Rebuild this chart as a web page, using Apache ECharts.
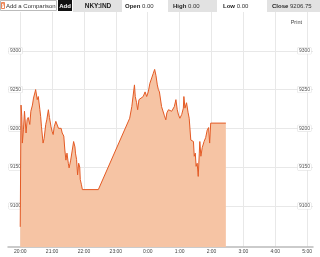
<!DOCTYPE html>
<html><head><meta charset="utf-8">
<script src="https://cdn.jsdelivr.net/npm/echarts@6/dist/echarts.min.js"></script>
<style>html,body{margin:0;padding:0;background:#fff}#c{width:320px;height:257px}</style>
</head><body><div id="c"></div>
<script>
// minutes after 20:00
const minutes = [0,1.5,3,4,6,8,11,13,15,18,20,23,25,28,29,32,34,37,38.5,40,43,45,48,50,53,55,58,60,62,64,67,69,72,74,77,79,82,84,86,88,90.5,92,95,98,100.5,103,104,106,108,110,112,113,115,117,118,147,206,210,215,216.5,219,221,223.5,227,231.5,235,238,241,244,247.5,250.5,253,255.5,258,260,262,264,266,269,271,274,276,279,282,285,287.5,290,293,295.5,298,300.5,304,307,308,310,313,316,318,321,323,326,327.5,329.5,331,333,335,337,338,340,342.5,346,349,352,354.5,356.5,358.5,387];
const prices = [9073,9230,9215,9181,9198,9222,9194,9211,9214,9205,9222,9230,9239,9247,9250,9237,9241,9224,9215,9202,9181,9187,9205,9211,9224,9214,9202,9196,9192,9202,9209,9207,9200,9198,9200,9194,9190,9172,9159,9168,9155,9149,9159,9172,9183,9176,9168,9160,9140,9155,9150,9134,9128,9121,9121,9121,9213,9228,9256,9241,9233,9224,9237,9235,9241,9247,9241,9247,9258,9265,9271,9276,9268,9256,9250,9247,9245,9228,9228,9217,9211,9220,9224,9226,9222,9224,9228,9237,9224,9217,9213,9218,9226,9241,9226,9233,9220,9213,9185,9187,9183,9164,9168,9151,9155,9138,9168,9183,9164,9175,9183,9188,9198,9201,9181,9206.75,9206.75];
const xTicks = [0,60,120,180,240,300,360,420,480,540];
const yTicks = [9100,9150,9200,9250,9300];
const tickerName = 'NKY:IND';
const openVal = '0.00', highVal = '0.00', lowVal = '0.00', closeVal = '9206.75';

const FONT = 'Liberation Sans, Arial, sans-serif';
const chart = echarts.init(document.getElementById('c'), null, {renderer: 'canvas'});
const seriesData = minutes.map((m, i) => [m, prices[i]]);
const fmtTime = v => (((20 + Math.round(v / 60)) % 24) + ':00');
const yLabel = {
  inside: true, fontSize: 5, color: '#555', fontFamily: FONT,
  backgroundColor: '#fff', borderColor: '#ddd', borderWidth: 0.5, padding: [1, 1, 0, 1],
  customValues: yTicks, formatter: v => String(v)
};
const hdrText = (x, txt, bold, fill) => ({
  type: 'text', x: x, y: 6, silent: true,
  style: {text: txt, fontSize: 6, fontFamily: FONT, fontWeight: bold ? 'bold' : 'normal',
    fill: fill || '#222', verticalAlign: 'middle', align: 'left'}
});
const richText = (x, label, val) => ({
  type: 'text', x: x, y: 6, silent: true,
  style: {text: '{b|' + label + '} ' + val, fontSize: 6, fontFamily: FONT, fill: '#333',
    verticalAlign: 'middle', align: 'left', rich: {b: {fontWeight: 'bold', fontSize: 6, fontFamily: FONT, fill: '#222'}}}
});
chart.setOption({
  animation: false,
  backgroundColor: '#fff',
  grid: {left: 8, right: 7, top: 12, bottom: 10},
  xAxis: {
    type: 'value', min: -23, max: 551,
    axisLine: {show: true, onZero: false, lineStyle: {color: '#bbb', width: 1.5}},
    axisTick: {show: false, customValues: xTicks},
    axisLabel: {fontSize: 5, color: '#444', fontFamily: FONT, margin: 2, customValues: xTicks, formatter: fmtTime},
    splitLine: {show: true, lineStyle: {color: '#e8e8e8', width: 1}}
  },
  yAxis: [
    {type: 'value', position: 'left', min: 9047, max: 9350,
      axisLine: {show: false}, axisTick: {show: false, customValues: yTicks},
      axisLabel: Object.assign({margin: 1}, yLabel),
      splitLine: {show: true, lineStyle: {color: '#e8e8e8', width: 1}}},
    {type: 'value', position: 'right', min: 9047, max: 9350,
      axisLine: {show: false}, axisTick: {show: false, customValues: yTicks},
      axisLabel: Object.assign({margin: 2}, yLabel),
      splitLine: {show: false}}
  ],
  series: [{
    type: 'line', data: seriesData, showSymbol: false, symbol: 'none',
    lineStyle: {color: '#e45a24', width: 1},
    areaStyle: {color: '#f6c4a4', opacity: 1, origin: 'start'},
    z: 3
  }],
  graphic: [
    {type: 'rect', shape: {x: 0.5, y: 0.5, width: 56, height: 10}, style: {fill: '#fff', stroke: '#bbb', lineWidth: 1}, silent: true},
    {type: 'rect', shape: {x: 1.5, y: 2.5, width: 3, height: 6}, style: {fill: 'none', stroke: '#e8662c', lineWidth: 0.8}, silent: true},
    {type: 'text', x: 3, y: 6, silent: true, style: {text: '?', fontSize: 5, fontFamily: FONT, fill: '#e8662c', align: 'center', verticalAlign: 'middle'}},
    hdrText(6, 'Add a Comparison', false, '#333'),
    {type: 'rect', shape: {x: 58, y: 0, width: 14, height: 11}, style: {fill: '#111'}, silent: true},
    {type: 'text', x: 65, y: 6, silent: true, style: {text: 'Add', fontSize: 6, fontFamily: FONT, fontWeight: 'bold', fill: '#fff', align: 'center', verticalAlign: 'middle'}},
    {type: 'rect', shape: {x: 73, y: 0, width: 49, height: 12}, style: {fill: '#e2e2e2'}, silent: true},
    {type: 'text', x: 98, y: 6, silent: true, style: {text: tickerName, fontSize: 6.5, fontFamily: FONT, fontWeight: 'bold', fill: '#222', align: 'center', verticalAlign: 'middle'}},
    richText(125, 'Open', openVal),
    {type: 'rect', shape: {x: 168, y: 0, width: 49, height: 12}, style: {fill: '#e2e2e2'}, silent: true},
    richText(173, 'High', highVal),
    richText(223, 'Low', lowVal),
    {type: 'rect', shape: {x: 267, y: 0, width: 53, height: 12}, style: {fill: '#e2e2e2'}, silent: true},
    richText(272, 'Close', closeVal),
    {type: 'text', x: 302, y: 22, silent: true, style: {text: 'Print', fontSize: 5.5, fontFamily: FONT, fill: '#444', align: 'right', verticalAlign: 'middle'}}
  ]
});
</script></body></html>
